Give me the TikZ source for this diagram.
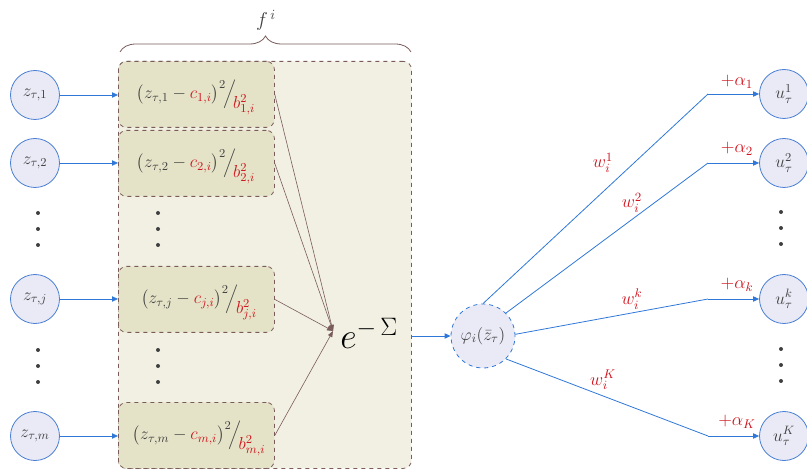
\RequirePackage{fix-cm}
\documentclass[tikz,border=0pt]{standalone}
\usepackage{amsmath}
\usetikzlibrary{arrows.meta,decorations.pathreplacing,calc}
\definecolor{cfill}{HTML}{E9EAF6}
\definecolor{cblue}{HTML}{4A7FD4}
\definecolor{lblue}{HTML}{2F78D8}
\definecolor{cred}{HTML}{D0141E}
\definecolor{brn}{HTML}{7A5C5C}
\definecolor{outerfill}{HTML}{F2F0E3}
\definecolor{innerfill}{HTML}{E4E3C7}
\definecolor{txt}{HTML}{404040}
\tikzset{
  io/.style={circle,draw=cblue,fill=cfill,minimum size=36.75pt,inner sep=0pt,line width=0.6pt,text=txt,font=\fontsize{13}{15}\selectfont},
  phinode/.style={circle,draw=lblue,dashed,fill=cfill,minimum size=48pt,inner sep=0pt,line width=0.6pt,text=txt,font=\fontsize{13}{15}\selectfont},
  outerbox/.style={draw=brn,dashed,fill=outerfill,rounded corners=6pt,line width=0.6pt,anchor=north west,minimum width=219.75pt,minimum height=305.25pt,inner sep=0pt},
  termbox/.style={draw=brn,dashed,fill=innerfill,rounded corners=6pt,line width=0.6pt,anchor=north west,minimum width=117pt,minimum height=49.5pt,inner sep=0pt},
  term/.style={text=txt,font=\fontsize{13}{15}\selectfont,inner sep=0pt},
  barrow/.style={draw=lblue,line width=0.6pt,-{Triangle[length=4.5pt,width=4pt]}},
  bline/.style={draw=lblue,line width=0.6pt},
  brarrow/.style={draw=brn,line width=0.45pt,-{Triangle[length=4.5pt,width=3.5pt]}},
  lab/.style={text=cred,font=\fontsize{13.5}{15}\selectfont,inner sep=0pt},
  dot/.style={circle,fill=txt,inner sep=0pt,minimum size=3pt},
}
\newcommand{\rd}[1]{\textcolor{cred}{#1}}
\newcommand{\fterm}[2]{$\bigl(z_{\tau,#1}-\rd{c_{#2,i}}\bigr)^{2}\!\Big/\!\raisebox{-1.3ex}{$\rd{b_{#2,i}^{2}}$}$}
\begin{document}
\begin{tikzpicture}[x=0.75pt,y=-0.75pt]
\useasboundingbox (0,0) rectangle (807,470);
% outer box and brace
\node[outerbox] (outer) at (118,61) {};
\draw[brn,line width=0.6pt,decorate,decoration={brace,amplitude=12pt}] (120,52) -- (411,52);
\node[text=txt,font=\fontsize{15}{17}\selectfont] (flab) at (266,20) {$f^{\,i}$};
% term boxes
\node[termbox] (b1) at (118,61) {};
\node[termbox] (b2) at (118,130) {};
\node[termbox] (bj) at (118,266) {};
\node[termbox] (bm) at (118,402) {};
\node[term] (t1) at (196,97) {\fterm{1}{1}};
\node[term] (t2) at (196,166) {\fterm{2}{2}};
\node[term] (tj) at (199,302) {\fterm{j}{j}};
\node[term] (tm) at (199,438) {\fterm{m}{m}};
% inputs
\node[io] (z1) at (35,95) {$z_{\tau,1}$};
\node[io] (z2) at (35,163) {$z_{\tau,2}$};
\node[io] (zj) at (35,299) {$z_{\tau,j}$};
\node[io] (zm) at (35,436) {$z_{\tau,m}$};
\draw[barrow] (z1) -- (z1 -| b1.west);
\draw[barrow] (z2) -- (z2 -| b2.west);
\draw[barrow] (zj) -- (zj -| bj.west);
\draw[barrow] (zm) -- (zm -| bm.west);
% dots
\foreach \y in {213,229,245,350,366,382}{
  \node[dot] at (38,\y) {};
  \node[dot] at (158,\y) {};
  \node[dot] at (781,\y-1) {};
}
% exp sum
\node[text=black,font=\fontsize{27}{30}\selectfont,anchor=west,inner sep=0pt] (esum) at (340,333) {$e^{-\,\Sigma}$};
\coordinate (conv) at (333,331);
\draw[brarrow] (b1.east) -- (conv);
\draw[brarrow] (b2.east) -- (conv);
\draw[brarrow] (bj.east) -- (conv);
\draw[brarrow] (bm.east) -- (conv);
% phi
\node[phinode] (phi) at (483,336) {$\varphi_i(\bar{z}_\tau)$};
\coordinate (oe) at (411,336);
\draw[barrow] (oe) -- (phi.west);
% outputs
\node[io] (u1) at (784,94) {$u_\tau^{1}$};
\node[io] (u2) at (784,163) {$u_\tau^{2}$};
\node[io] (uk) at (784,299) {$u_\tau^{k}$};
\node[io] (uK) at (784,436) {$u_\tau^{K}$};
\coordinate (e1) at (708,94);
\coordinate (e2) at (708,163);
\coordinate (ek) at (708,299);
\coordinate (eK) at (708,436);
\draw[bline] (phi.north) -- (e1);
\draw[bline] (phi.45) -- (e2);
\draw[bline] (phi.3) -- (ek);
\draw[bline] (phi.-45) -- (eK);
\draw[barrow] (e1) -- (u1.west);
\draw[barrow] (e2) -- (u2.west);
\draw[barrow] (ek) -- (uk.west);
\draw[barrow] (eK) -- (uK.west);
% labels
\node[lab] (a1) at (737,82) {$+\alpha_1$};
\node[lab] (a2) at (737,149) {$+\alpha_2$};
\node[lab] (ak) at (737,285) {$+\alpha_k$};
\node[lab] (aK) at (737,422) {$+\alpha_K$};
\node[lab] (w1) at (603,163) {$w_i^{1}$};
\node[lab] (w2) at (632,203) {$w_i^{2}$};
\node[lab] (wk) at (632,299) {$w_i^{k}$};
\node[lab] (wK) at (603,380) {$w_i^{K}$};
\end{tikzpicture}
\end{document}
